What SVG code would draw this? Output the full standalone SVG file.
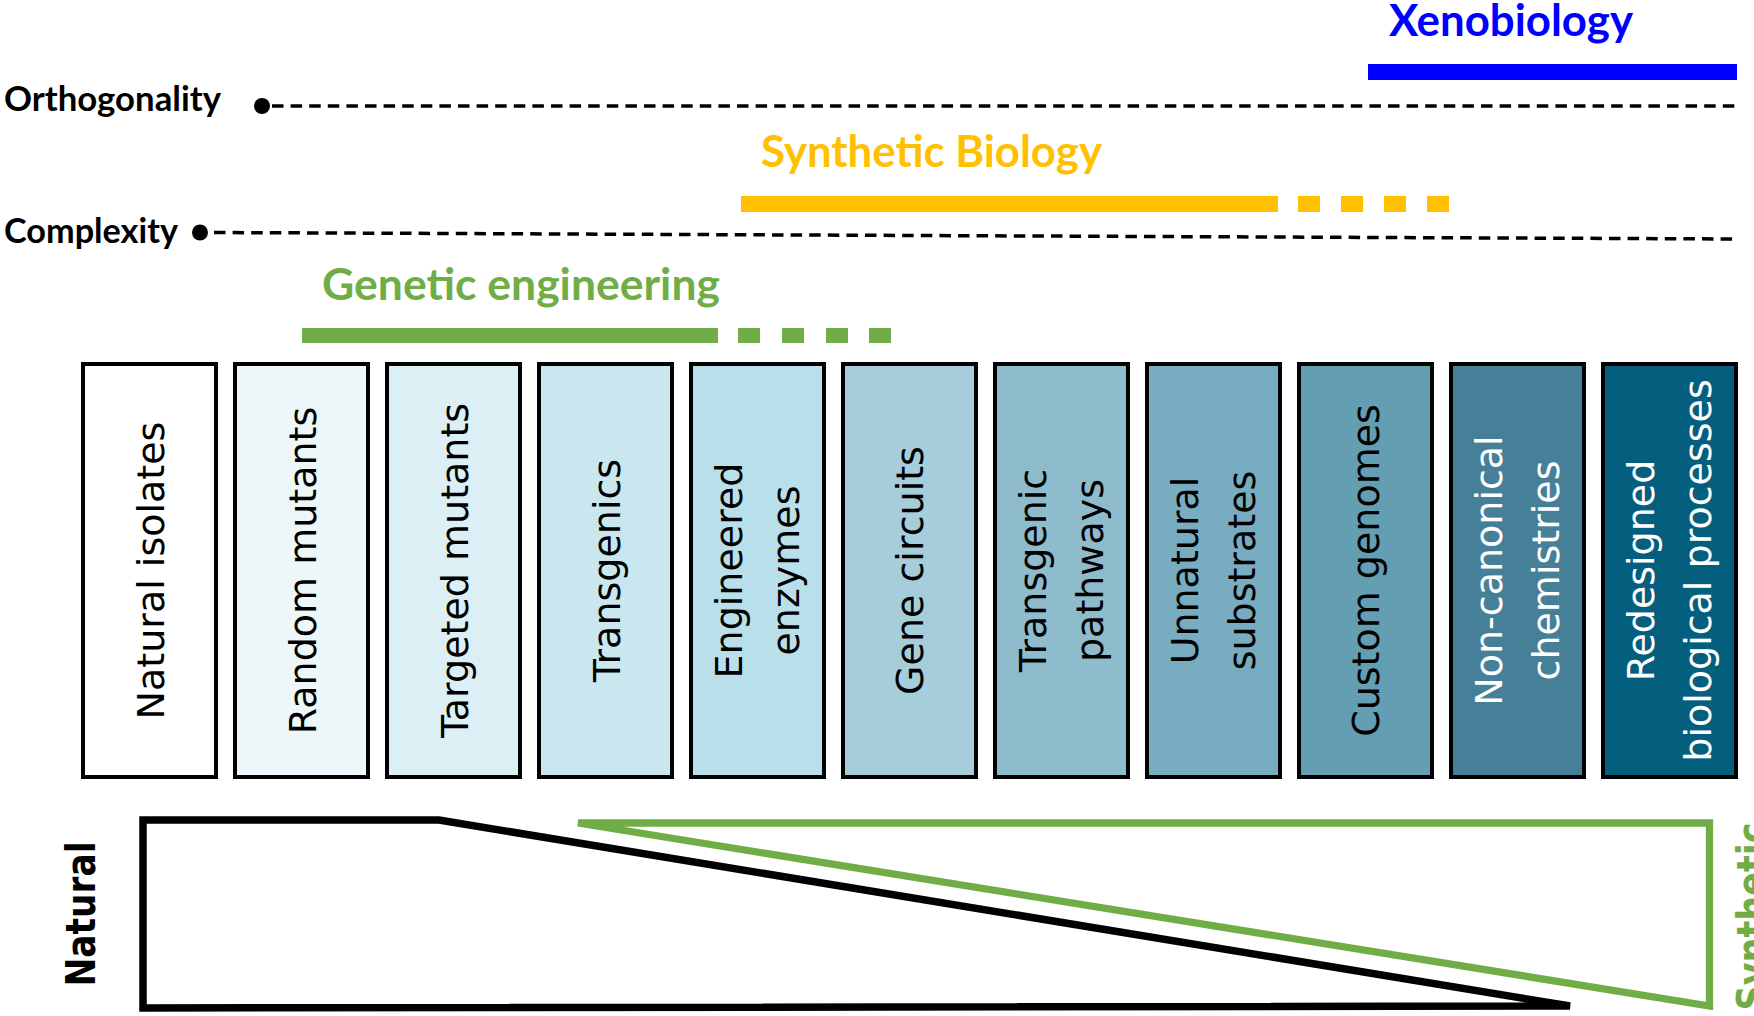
<svg xmlns="http://www.w3.org/2000/svg" width="1754" height="1016" viewBox="0 0 1754 1016">
<style>
.hdr{font-family:Lato,"Open Sans","Liberation Sans",sans-serif;font-weight:700;font-size:43px}
.axis{font-family:Lato,"Open Sans","Liberation Sans",sans-serif;font-weight:700;font-size:34px;fill:#000}
.dash{stroke:#000;stroke-width:3.5;stroke-dasharray:11.5 7.1;fill:none}
.box{stroke:#000;stroke-width:4}
.lbl{font-family:"DejaVu Sans",Verdana,sans-serif;font-size:38px;text-anchor:middle;fill:#000}
.wl{fill:#fff}
.side{font-family:"DejaVu Sans",Verdana,sans-serif;font-weight:700;font-size:40px;text-anchor:middle}
</style>
<rect width="1754" height="1016" fill="#fff"/>

<g id="xenobiology">
<text class="hdr" x="1389" y="36" fill="#0000FF" textLength="244" lengthAdjust="spacingAndGlyphs">Xenobiology</text>
<rect x="1368" y="64" width="369" height="16" fill="#0000FF"/>
</g>

<g id="synthetic-biology">
<text class="hdr" x="761" y="167" fill="#FFC000" textLength="341" lengthAdjust="spacingAndGlyphs">Synthetic Biology</text>
<rect x="741" y="196" width="537" height="16" fill="#FFC000"/>
<rect x="1298" y="196" width="22" height="16" fill="#FFC000"/>
<rect x="1341" y="196" width="22" height="16" fill="#FFC000"/>
<rect x="1384" y="196" width="22" height="16" fill="#FFC000"/>
<rect x="1427" y="196" width="22" height="16" fill="#FFC000"/>
</g>

<g id="genetic-engineering">
<text class="hdr" x="322" y="300" fill="#70AD47" textLength="398" lengthAdjust="spacingAndGlyphs">Genetic engineering</text>
<rect x="302" y="328" width="416" height="15" fill="#70AD47"/>
<rect x="738" y="328" width="22" height="15" fill="#70AD47"/>
<rect x="782" y="328" width="22" height="15" fill="#70AD47"/>
<rect x="826" y="328" width="22" height="15" fill="#70AD47"/>
<rect x="869" y="328" width="22" height="15" fill="#70AD47"/>
</g>

<g id="orthogonality">
<text class="axis" x="4" y="111" textLength="217" lengthAdjust="spacingAndGlyphs">Orthogonality</text>
<circle cx="262" cy="106" r="8"/>
</g>
<g id="complexity">
<text class="axis" x="4" y="243" textLength="174" lengthAdjust="spacingAndGlyphs">Complexity</text>
<circle cx="200" cy="232.5" r="8"/>
</g>

<g id="connectors">
<line class="dash" x1="272" y1="106" x2="1738" y2="106"/>
<line class="dash" x1="214" y1="232.5" x2="1738" y2="239"/>
</g>

<g id="box-natural-isolates">
<rect class="box" x="83" y="364" width="133" height="413" fill="#FFFFFF"/>
<text class="lbl" transform="translate(163.5,570.5) rotate(-90)">Natural isolates</text>
</g>
<g id="box-random-mutants">
<rect class="box" x="235" y="364" width="133" height="413" fill="#EDF6F9"/>
<text class="lbl" transform="translate(315.5,570.5) rotate(-90)">Random mutants</text>
</g>
<g id="box-targeted-mutants">
<rect class="box" x="387" y="364" width="133" height="413" fill="#DBEFF4"/>
<text class="lbl" transform="translate(467.5,570.5) rotate(-90)">Targeted mutants</text>
</g>
<g id="box-transgenics">
<rect class="box" x="539" y="364" width="133" height="413" fill="#CAE7F0"/>
<text class="lbl" transform="translate(619.5,570.5) rotate(-90)">Transgenics</text>
</g>
<g id="box-engineered-enzymes">
<rect class="box" x="691" y="364" width="133" height="413" fill="#B9E0EA"/>
<text class="lbl" transform="translate(742,570.5) rotate(-90)"><tspan x="0" y="0">Engineered</tspan><tspan x="0" y="57">enzymes</tspan></text>
</g>
<g id="box-gene-circuits">
<rect class="box" x="843" y="364" width="133" height="413" fill="#A5CDDA"/>
<text class="lbl" transform="translate(923,570.5) rotate(-90)">Gene circuits</text>
</g>
<g id="box-transgenic-pathways">
<rect class="box" x="995" y="364" width="133" height="413" fill="#8EBCCC"/>
<text class="lbl" transform="translate(1046,570.5) rotate(-90)"><tspan x="0" y="0">Transgenic</tspan><tspan x="0" y="57">pathways</tspan></text>
</g>
<g id="box-unnatural-substrates">
<rect class="box" x="1147" y="364" width="133" height="413" fill="#78ACC1"/>
<text class="lbl" transform="translate(1198,570.5) rotate(-90)"><tspan x="0" y="0">Unnatural</tspan><tspan x="0" y="57">substrates</tspan></text>
</g>
<g id="box-custom-genomes">
<rect class="box" x="1299" y="364" width="133" height="413" fill="#639EB2"/>
<text class="lbl" transform="translate(1379,570.5) rotate(-90)">Custom genomes</text>
</g>
<g id="box-non-canonical-chemistries">
<rect class="box" x="1451" y="364" width="133" height="413" fill="#467F98"/>
<text class="lbl wl" transform="translate(1502,570.5) rotate(-90)"><tspan x="0" y="0">Non-canonical</tspan><tspan x="0" y="57">chemistries</tspan></text>
</g>
<g id="box-redesigned-biological-processes">
<rect class="box" x="1603" y="364" width="133" height="413" fill="#045E7E"/>
<text class="lbl wl" transform="translate(1654,570.5) rotate(-90)"><tspan x="0" y="0">Redesigned</tspan><tspan x="0" y="57">biological processes</tspan></text>
</g>

<g id="natural-wedge">
<path d="M143,1008 L143,820 L439,820 L1570,1006 L143,1008 Z" fill="none" stroke="#000" stroke-width="7.5" stroke-linejoin="miter" stroke-miterlimit="4"/>
<text class="side" fill="#000" transform="translate(95,914) rotate(-90)" textLength="145" lengthAdjust="spacingAndGlyphs">Natural</text>
</g>

<g id="synthetic-wedge">
<path d="M578,823 L1709.5,823 L1709.5,1006 Z" fill="none" stroke="#70AD47" stroke-width="7.3" stroke-linejoin="miter" stroke-miterlimit="4"/>
<text class="side" fill="#70AD47" transform="translate(1766,916.5) rotate(-90)" textLength="188" lengthAdjust="spacingAndGlyphs">Synthetic</text>
</g>
</svg>
